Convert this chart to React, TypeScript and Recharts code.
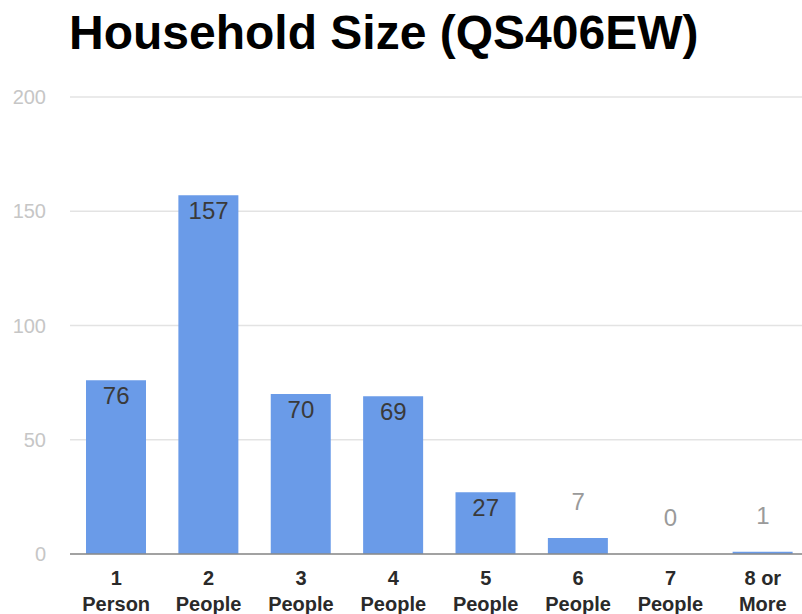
import React from 'react';
import { ComposedChart, Bar, Line, XAxis, YAxis, CartesianGrid, LabelList } from 'recharts';

const categories = ['1\nPerson', '2\nPeople', '3\nPeople', '4\nPeople', '5\nPeople', '6\nPeople', '7\nPeople', '8 or\nMore'];
const households = [76, 157, 70, 69, 27, 7, 0, 1];
const yTicks = [0, 50, 100, 150, 200];

const data = categories.map((name, i) => ({ name, households: households[i] }));

const FONT = '"Liberation Sans", Arial, sans-serif';

const YTick = (props: any) => (
  <text x={46} y={props.y} dy={7} textAnchor="end" fontSize={20} fill="#c6c6c6" fontFamily={FONT}>
    {props.payload.value}
  </text>
);

const XTick = (props: any) => {
  const [top, bottom] = String(props.payload.value).split('\n');
  return (
    <text x={props.x} y={props.y} textAnchor="middle" fontSize={20} fontWeight="bold" fill="#2a2a2a" fontFamily={FONT}>
      <tspan x={props.x} dy={31}>{top}</tspan>
      <tspan x={props.x} dy={26}>{bottom}</tspan>
    </text>
  );
};

// label sits inside the bar top when the bar is tall enough, otherwise above it
const ValueLabel = (props: any) => {
  const { x, y, value } = props;
  const inside = value >= 15;
  return (
    <text
      x={x}
      y={inside ? y + 24 : y - 28}
      textAnchor="middle"
      fontSize={24}
      fill={inside ? '#3a3a3a' : '#9a9a9a'}
      fontFamily={FONT}
    >
      {value}
    </text>
  );
};

export default function App() {
  return (
    <div style={{ position: 'fixed', left: 0, top: 0, width: 802, height: 614, overflow: 'hidden', background: '#fff' }}>
      <div
        style={{
          position: 'absolute',
          left: 69,
          top: 9,
          fontFamily: FONT,
          fontWeight: 'bold',
          fontSize: 48,
          lineHeight: 1,
          color: '#000',
          whiteSpace: 'nowrap',
        }}
      >
        Household Size (QS406EW)
      </div>
      <ComposedChart
        width={820}
        height={614}
        data={data}
        margin={{ top: 97, right: 11, bottom: 30, left: 0 }}
        style={{ overflow: 'visible' }}
      >
        <CartesianGrid vertical={false} stroke="#e3e3e3" strokeWidth={1.5} />
        <XAxis
          dataKey="name"
          height={30}
          interval={0}
          tickLine={false}
          tickSize={0}
          tickMargin={0}
          axisLine={{ stroke: '#8a8a8a', strokeWidth: 1.5 }}
          tick={<XTick />}
        />
        <YAxis
          width={70}
          domain={[0, 200]}
          ticks={yTicks}
          axisLine={false}
          tickLine={false}
          tick={<YTick />}
        />
        <Bar dataKey="households" fill="#6a9be8" barSize={60} isAnimationActive={false} />
        <Line
          dataKey="households"
          stroke="none"
          dot={false}
          activeDot={false}
          legendType="none"
          isAnimationActive={false}
        >
          <LabelList dataKey="households" content={<ValueLabel />} />
        </Line>
      </ComposedChart>
    </div>
  );
}
